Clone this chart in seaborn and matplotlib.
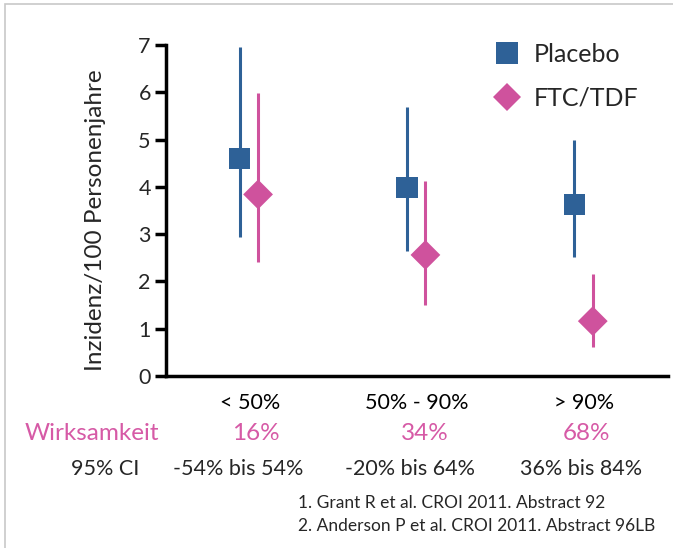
import numpy as np
import pandas as pd
import seaborn as sns
import matplotlib.pyplot as plt
from matplotlib.lines import Line2D
from matplotlib.patches import Rectangle

# data
groups = ['< 50%', '50% - 90%', '> 90%']
arms = ['Placebo', 'FTC/TDF']
placebo_rate = [4.60, 3.99, 3.62]
placebo_low = [2.93, 2.65, 2.51]
placebo_high = [6.96, 5.68, 5.00]
ftc_rate = [3.84, 2.56, 1.16]
ftc_low = [2.40, 1.50, 0.61]
ftc_high = [5.98, 4.12, 2.15]
efficacy = ['16%', '34%', '68%']
ci_text = ['-54% bis 54%', '-20% bis 64%', '36% bis 84%']
footnotes = ['1. Grant R et al. CROI 2011. Abstract 92',
             '2. Anderson P et al. CROI 2011. Abstract 96LB']

blue = '#2E6197'
pink = '#CF529D'
pink_text = '#D65AA6'
offsets = {'Placebo': -0.06, 'FTC/TDF': 0.05}

df = pd.DataFrame({
    'group': groups * 2,
    'arm': ['Placebo'] * 3 + ['FTC/TDF'] * 3,
    'rate': placebo_rate + ftc_rate,
    'low': placebo_low + ftc_low,
    'high': placebo_high + ftc_high,
})
df['x'] = [groups.index(g) + offsets[a] for g, a in zip(df['group'], df['arm'])]

sns.set_theme(style='white')
plt.rcParams['font.family'] = ['Lato', 'DejaVu Sans']

fig = plt.figure(figsize=(6.73, 5.48), dpi=100)
ax = fig.add_axes([0.2467, 0.3139, 0.746, 0.604])

palette = {'Placebo': blue, 'FTC/TDF': pink}
for arm in arms:
    sub = df[df['arm'] == arm]
    ax.vlines(sub['x'], sub['low'], sub['high'], color=palette[arm], lw=2.2, zorder=2)

sns.scatterplot(data=df, x='x', y='rate', hue='arm', style='arm',
                palette=palette, markers={'Placebo': 's', 'FTC/TDF': 'D'},
                s=230, linewidth=0, legend=False, ax=ax, zorder=3)

ax.set_xlim(-0.5, 2.5)
ax.set_ylim(0, 7)
ax.set_yticks(range(8))
ax.set_xticks(range(3))
ax.set_xticklabels(groups, fontsize=15.5)
ax.set_xticks([-0.5, 0.5, 1.5, 2.5], minor=True)
ax.tick_params(axis='x', which='major', length=0, pad=12, colors='black')
ax.tick_params(axis='x', which='minor', length=9, width=2.5, color='black', direction='out')
ax.tick_params(axis='y', labelsize=15.5, length=8, width=2.5, color='black',
               direction='out', left=True, pad=3)
ax.set_xlabel('')
ax.set_ylabel('Inzidenz/100 Personenjahre', fontsize=17.5)
ax.yaxis.set_label_coords(-0.12, 0.47)
for side in ['top', 'right']:
    ax.spines[side].set_visible(False)
for side in ['left', 'bottom']:
    ax.spines[side].set_linewidth(2.5)
    ax.spines[side].set_color('black')

handles = [Line2D([], [], ls='', marker='s', color=blue, markersize=15.2, markeredgewidth=0),
           Line2D([], [], ls='', marker='D', color=pink, markersize=14.5, markeredgewidth=0)]
ax.legend(handles, arms, loc='upper left', bbox_to_anchor=(0.605, 1.075), frameon=False,
          fontsize=18, handletextpad=0.45, labelspacing=0.85, handlelength=1.2)

# rows of text under the axis
W, H = 673, 548
fig.text(25 / W, 1 - 433 / H, 'Wirksamkeit', color=pink_text, fontsize=17.5, ha='left', va='center')
fig.text(105 / W, 1 - 469 / H, '95% CI', fontsize=15.5, ha='center', va='center')
for cx, txt in zip([256, 425, 587], efficacy):
    fig.text(cx / W, 1 - 433 / H, txt, color=pink_text, fontsize=17.5, ha='center', va='center')
for cx, txt in zip([238, 410, 581], ci_text):
    fig.text(cx / W, 1 - 469 / H, txt, fontsize=15.5, ha='center', va='center')
for yy, txt in zip([503, 526], footnotes):
    fig.text(298 / W, 1 - yy / H, txt, fontsize=12.5, ha='left', va='center')

fig.add_artist(Rectangle((5 / W, -0.1), 1.2, 1.1 - 4 / H, transform=fig.transFigure,
                         fill=False, edgecolor='#C8C8C8', lw=1.2))

plt.savefig('out.png', dpi=100)
